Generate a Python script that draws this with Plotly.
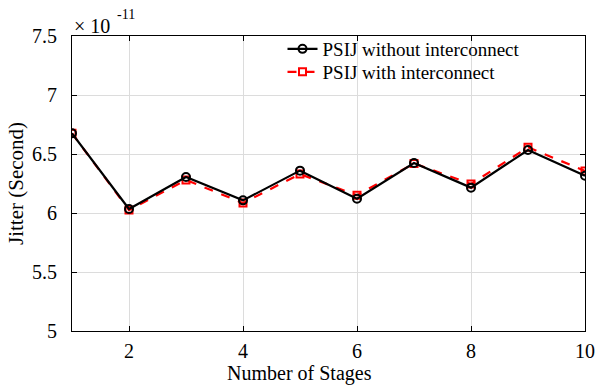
import plotly.graph_objects as go

stages = [1, 2, 3, 4, 5, 6, 7, 8, 9, 10]
# Jitter values in units of 1e-11 seconds
jitter_without = [6.675, 6.034, 6.305, 6.107, 6.359, 6.121, 6.424, 6.215, 6.534, 6.316]
jitter_with = [6.675, 6.025, 6.28, 6.085, 6.33, 6.15, 6.42, 6.246, 6.557, 6.356]
name_without = "PSIJ without interconnect"
name_with = "PSIJ with interconnect"
y_ticks = [5, 5.5, 6, 6.5, 7, 7.5]
y_ticklabels = ["5", "5.5", "6", "6.5", "7", "7.5"]
x_ticks = [2, 4, 6, 8, 10]

font = "Liberation Serif, Times New Roman, serif"

fig = go.Figure()
fig.add_trace(go.Scatter(
    x=stages, y=jitter_with, name=name_with, mode="lines+markers", legend="legend2",
    line=dict(color="red", width=2.2, dash="dash"),
    marker=dict(symbol="square-open", size=7, color="red", line=dict(width=2)),
))
fig.add_trace(go.Scatter(
    x=stages, y=jitter_without, name=name_without, mode="lines+markers", legend="legend",
    line=dict(color="black", width=2.2),
    marker=dict(symbol="circle-open", size=8, color="black", line=dict(width=2)),
))

axis_common = dict(
    showline=True, linecolor="black", linewidth=1.2, mirror="ticks",
    ticks="inside", ticklen=5, tickcolor="black", automargin=False,
    showgrid=True, gridcolor="#dcdcdc", gridwidth=1, zeroline=False,
    tickfont=dict(family=font, size=20, color="black"),
)

PW = 513.0  # plot width in px
PH = 295.0  # plot height in px

legend_common = dict(xanchor="left", yanchor="middle", x=(282.5 - 72) / PW,
                     bgcolor="rgba(0,0,0,0)", borderwidth=0,
                     font=dict(family=font, size=19, color="black"))

fig.update_layout(
    width=595, height=386,
    margin=dict(l=72, r=10, t=36, b=55),
    paper_bgcolor="white", plot_bgcolor="white",
    font=dict(family=font, color="black"),
    xaxis=dict(range=[1, 10], tickvals=x_ticks, ticklabelstandoff=2,
               ticklabeloverflow="allow", **axis_common),
    yaxis=dict(range=[5, 7.5], tickvals=y_ticks, ticktext=y_ticklabels,
               ticklabelstandoff=10,
               title=dict(text="Jitter (Second)", font=dict(family=font, size=21), standoff=2),
               **axis_common),
    legend=dict(y=1 - (49 - 36) / PH, **legend_common),
    legend2=dict(y=1 - (72 - 36) / PH, **legend_common),
    showlegend=True,
)
fig.add_annotation(x=0, y=1, xref="paper", yref="paper", xanchor="left", yanchor="bottom",
                   yshift=-3, text="× 10", showarrow=False,
                   font=dict(family=font, size=20, color="black"))
fig.add_annotation(x=(115 - 72) / PW, y=1, xref="paper", yref="paper",
                   xanchor="left", yanchor="bottom", yshift=12,
                   text="-11", showarrow=False,
                   font=dict(family=font, size=14, color="black"))
fig.add_annotation(x=(299 - 72) / PW, y=0, xref="paper", yref="paper",
                   xanchor="center", yanchor="top", yshift=-29,
                   text="Number of Stages", showarrow=False,
                   font=dict(family=font, size=20, color="black"))

fig.write_html("out.html")
